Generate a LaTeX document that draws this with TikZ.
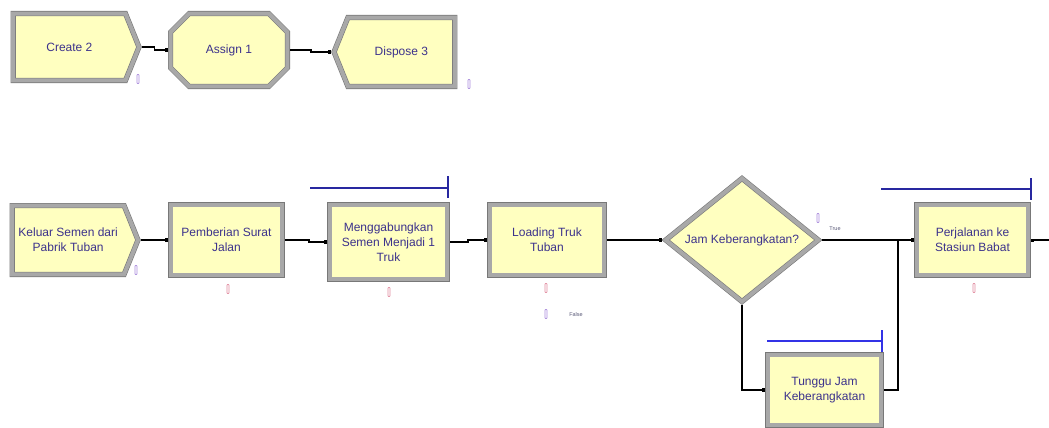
\documentclass[tikz,border=0pt]{standalone}
\usepackage{fontspec}
\setmainfont{Liberation Sans}
\usetikzlibrary{shapes.geometric,shapes.symbols,shapes.misc,arrows.meta}
\definecolor{modfill}{RGB}{255,255,192}
\definecolor{bevel}{RGB}{168,168,168}
\definecolor{bevedge}{RGB}{120,120,120}
\definecolor{modtext}{RGB}{60,50,140}
\definecolor{queue}{RGB}{40,40,160}
\definecolor{queuebright}{RGB}{50,50,230}
\definecolor{cntpink}{RGB}{225,140,160}
\definecolor{cntlav}{RGB}{170,140,220}
\definecolor{smalltxt}{RGB}{90,90,120}
\tikzset{
  module/.style={fill=modfill, draw=bevedge, double=bevel, line width=0.6pt,
    double distance=4pt, outer sep=2.6pt, inner sep=1pt, align=center,
    text=modtext, font=\fontsize{12}{15}\selectfont},
  procbox/.style={module, rectangle},
  createbox/.style={module, signal, signal to=east, signal pointer angle=136},
  disposebox/.style={module, signal, signal to=west, signal pointer angle=136},
  assignbox/.style={module, chamfered rectangle, chamfered rectangle xsep=12pt,
    chamfered rectangle ysep=12pt},
  decidebox/.style={module, diamond, inner sep=0pt},
  conn/.style={draw=black, line width=1.3pt,
    {Square[length=2.5pt,width=2.5pt]}-{Square[length=3.5pt,width=3.5pt]}},
  queueline/.style={draw=queue, line width=1.2pt},
  counter/.style={line width=0.7pt, rounded corners=0.6pt},
  branchlbl/.style={text=smalltxt, font=\fontsize{5.5}{6}\selectfont, inner sep=0pt}
}
\begin{document}
\begin{tikzpicture}[x=1pt,y=-1pt]
\useasboundingbox (0,0) rectangle (1049,428);

% upper chain
\node[createbox, minimum width=125.8pt, minimum height=66.8pt, anchor=west] (create) at (10.6,47) {Create 2};
\node[assignbox, minimum width=116.8pt, minimum height=72.8pt] (assign) at (229,50) {Assign 1};
\node[disposebox, minimum width=120.8pt, minimum height=68.8pt, anchor=east] (dispose) at (457.4,52) {Dispose 3};

% lower chain
\node[createbox, minimum width=125.8pt, minimum height=68.8pt, anchor=west] (keluar) at (9.6,240) {Keluar Semen dari\\Pabrik Tuban};
\node[procbox, minimum width=111.8pt, minimum height=70.8pt] (pem) at (226.5,240) {Pemberian Surat\\Jalan};
\node[procbox, minimum width=117.8pt, minimum height=74.8pt] (men) at (388.5,242) {Menggabungkan\\Semen Menjadi 1\\Truk};
\node[procbox, minimum width=114.8pt, minimum height=70.8pt] (load) at (547,240) {Loading Truk\\Tuban};
\node[decidebox, minimum width=154.8pt, minimum height=108.8pt] (dec) at (742,240) {Jam Keberangkatan?};
\node[procbox, minimum width=113.8pt, minimum height=70.8pt] (tun) at (824.5,390) {Tunggu Jam\\Keberangkatan};
\node[procbox, minimum width=111.8pt, minimum height=70.8pt] (per) at (972.5,240) {Perjalanan ke\\Stasiun Babat};
\coordinate (exit) at (1052,240);

% branch labels
\node[branchlbl] (truelbl) at (835,229) {True};
\node[branchlbl] (falselbl) at (576,315) {False};

% connectors
\draw[conn] (create.east) -- ++(13,0) |- (assign.west);
\draw[conn] (assign.east) -- ++(21,0) |- (dispose.west);
\draw[conn] (keluar.east) -- (pem.west);
\draw[conn] (pem.east) -- ++(24,0) |- (men.west);
\draw[conn] (men.east) -- ++(18,0) |- (load.west);
\draw[conn] (load.east) -- ++(26,0) |- (dec.west);
\draw[conn] (dec.east) -- (per.west);
\draw[conn] (dec.south) |- (tun.west);
\draw[conn] (tun.east) -- ++(14,0) |- (per.west);
\draw[conn, {Square[length=3pt,width=3pt]}-] (per.east) -- (exit);

% queue lines
\draw[queueline] (310,188) -- (448,188) (448,176) -- (448,198);
\draw[queueline] (881,189) -- (1031,189) (1031,178) -- (1031,200);
\draw[queueline, draw=queuebright] (767,341) -- (882,341) (882,330) -- (882,352);

% counters
\foreach \cx/\cy/\cc in {138/79/cntlav, 469/84/cntlav, 136/270/cntlav,
    228/289/cntpink, 389/292/cntpink, 546/288/cntpink, 546/314/cntlav,
    818/218/cntlav, 974/288/cntpink}
  \draw[counter, draw=\cc] (\cx-1,\cy-4.5) rectangle (\cx+1,\cy+4.5);
\end{tikzpicture}
\end{document}
